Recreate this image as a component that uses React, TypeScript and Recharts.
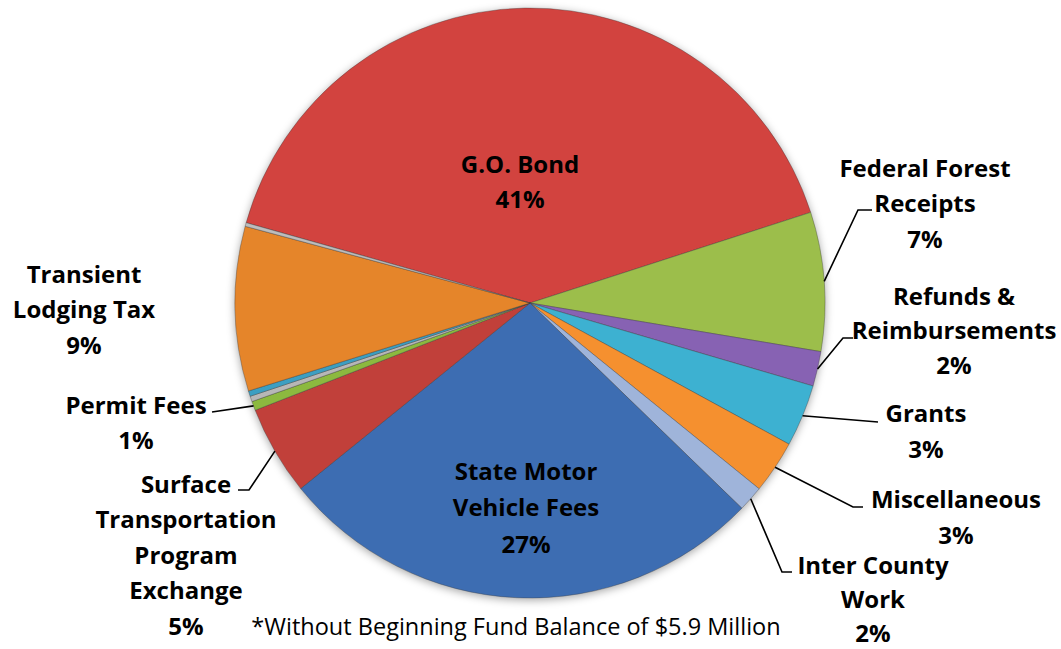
import { PieChart, Pie, Cell } from 'recharts';

// revenue sources, in drawing order (clockwise from G.O. Bond)
const SOURCES = [
  'G.O. Bond',
  'Federal Forest\nReceipts',
  'Refunds &\nReimbursements',
  'Grants',
  'Miscellaneous',
  'Inter County\nWork',
  'State Motor\nVehicle Fees',
  'Surface\nTransportation\nProgram\nExchange',
  'Permit Fees',
  '',
  '',
  'Transient\nLodging Tax',
  '',
];
const SHARES = [40.6, 7.6, 1.9, 3.4, 2.9, 1.4, 26.9, 4.9, 0.5, 0.3, 0.3, 9.0, 0.2];
const PCT_LABELS = ['41%', '7%', '2%', '3%', '3%', '2%', '27%', '5%', '1%', '', '', '9%', ''];
const COLORS = [
  '#D2433F', '#9CBE4B', '#8762B3', '#3DB1D1', '#F5902F', '#9FB4DA', '#3D6DB2',
  '#C1403A', '#8CB93F', '#B7B7B7', '#3C9FC2', '#E5852A', '#BDBDBD',
];

const FOOTNOTE = '*Without Beginning Fund Balance of $5.9 Million';

const data = SOURCES.map((name, i) => ({ name, value: SHARES[i] }));

// label placement (text centre, line gap, leader line bends)
type Layout = { x: number; y: number; gap: number; pts?: number[][] };
const LABEL_LAYOUT: (Layout | null)[] = [
  { x: 520, y: 163, gap: 35 },
  { x: 925, y: 167, gap: 35.5, pts: [[858, 210], [872, 210]] },
  { x: 954, y: 295, gap: 34.5, pts: [[843, 338], [853, 338]] },
  { x: 926, y: 412, gap: 36, pts: [[878, 422]] },
  { x: 956, y: 498, gap: 36, pts: [[853, 507], [863, 507]] },
  { x: 873, y: 564, gap: 34, pts: [[782, 572], [792, 572]] },
  { x: 526, y: 470, gap: 36.5 },
  { x: 186, y: 483, gap: 35.5, pts: [[249, 490], [238, 490]] },
  { x: 136, y: 404, gap: 35, pts: [[212, 412]] },
  null,
  null,
  { x: 84, y: 273, gap: 35.5 },
  null,
];

const RADIAN = Math.PI / 180;
const FONT = '"Open Sans", Lato, sans-serif';

const renderLabel = (props: any) => {
  const { cx, cy, midAngle, outerRadius, index } = props;
  const lay = LABEL_LAYOUT[index];
  if (!lay) return null;
  const lines = SOURCES[index].split('\n').concat(PCT_LABELS[index]);
  let leader = null;
  if (lay.pts) {
    const sx = cx + outerRadius * Math.cos(-midAngle * RADIAN);
    const sy = cy + outerRadius * Math.sin(-midAngle * RADIAN);
    const pts = [[sx, sy], ...lay.pts].map((p) => p.join(',')).join(' ');
    leader = <polyline points={pts} fill="none" stroke="#000" strokeWidth={1.6} />;
  }
  return (
    <g key={`lbl-${index}`}>
      {leader}
      {lines.map((t, i) => (
        <text
          key={i}
          x={lay.x}
          y={lay.y + i * lay.gap}
          textAnchor="middle"
          dominantBaseline="central"
          fill="#000"
          style={{ fontFamily: FONT, fontWeight: 700, fontSize: 24 }}
        >
          {t}
        </text>
      ))}
    </g>
  );
};

export default function App() {
  return (
    <div style={{ position: 'absolute', left: 0, top: 0, width: 1061, height: 649, background: '#fff' }}>
      <style>{`.recharts-pie { filter: drop-shadow(0 2px 4px rgba(0,0,0,0.35)); }`}</style>
      <PieChart width={1061} height={649} margin={{ top: 0, right: 0, bottom: 0, left: 0 }}>
        <Pie
          data={data}
          dataKey="value"
          nameKey="name"
          cx={530}
          cy={303}
          outerRadius={295}
          startAngle={164.2}
          endAngle={-195.8}
          stroke="rgba(60,60,60,0.45)"
          strokeWidth={0.8}
          label={renderLabel}
          labelLine={false}
          isAnimationActive={false}
        >
          {data.map((_, i) => (
            <Cell key={`cell-${i}`} fill={COLORS[i]} />
          ))}
        </Pie>
        <text
          x={516}
          y={626}
          textAnchor="middle"
          dominantBaseline="central"
          fill="#000"
          style={{ fontFamily: FONT, fontSize: 23.5 }}
        >
          {FOOTNOTE}
        </text>
      </PieChart>
    </div>
  );
}
